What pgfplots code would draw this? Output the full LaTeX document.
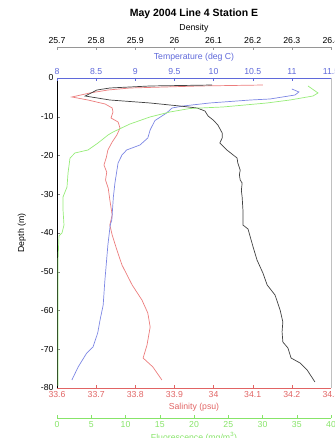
\documentclass[border=0pt]{standalone}
\usepackage{fontspec}
\setmainfont{Liberation Sans}
\usepackage{pgfplots}
\pgfplotsset{compat=1.18}
\definecolor{salc}{RGB}{236,125,125}
\definecolor{salt}{RGB}{225,100,100}
\definecolor{tmpc}{RGB}{125,135,228}
\definecolor{tmpt}{RGB}{95,105,218}
\definecolor{fluc}{RGB}{150,236,120}
\definecolor{flut}{RGB}{135,228,105}
\definecolor{denc}{RGB}{65,65,65}
\definecolor{dena}{RGB}{150,150,150}
\pgfplotsset{
  base/.style={scale only axis, width=274pt, height=310pt, at={(0,0)}, anchor=south west,
    /pgf/number format/assume math mode=true,
    tick label style={font=\fontsize{8.7}{10}\selectfont},
    label style={font=\fontsize{8.7}{10}\selectfont},
    major tick length=3pt, tick align=inside,
    axis line style={-}, every axis plot/.append style={line width=0.7pt}},
}
\begin{document}
\begin{tikzpicture}
\path[use as bounding box, clip] (-57pt,-50pt) rectangle (277pt,388pt);
% Salinity + depth
\begin{axis}[base, xmin=33.6, xmax=34.3, ymin=-80, ymax=0,
  axis x line*=bottom, axis y line*=left,
  xtick={33.6,33.7,33.8,33.9,34,34.1,34.2,34.3},
  ytick={-80,-70,-60,-50,-40,-30,-20,-10,0},
  x axis line style={salt}, x tick style={salt},
  xticklabel style={text=salt},
  xlabel={Salinity (psu)}, xlabel style={text=salt, yshift=1pt},
  ylabel={Depth (m)}, ylabel style={yshift=8pt}]
\addplot[salc, no marks] coordinates {
(34.126,-1.81) (33.965,-2.06) (33.787,-2.58) (33.730,-3.10) (33.684,-3.87) (33.638,-4.90)
(33.679,-5.68) (33.723,-6.71) (33.741,-7.74) (33.743,-8.77) (33.738,-10.32) (33.756,-11.35)
(33.761,-12.90) (33.753,-14.71) (33.741,-16.52) (33.730,-18.58) (33.726,-20.5) (33.720,-22.45)
(33.727,-24.3) (33.724,-26.32) (33.731,-28.5) (33.735,-31.48) (33.741,-35.35) (33.735,-37.94)
(33.741,-40.52) (33.753,-44.39) (33.766,-48.26) (33.792,-53.42) (33.817,-57.29) (33.832,-60.65)
(33.838,-64.26) (33.830,-68.90) (33.820,-72.26) (33.845,-74.58) (33.868,-77.94)};
\end{axis}
% Temperature
\begin{axis}[base, xmin=8, xmax=11.5, ymin=-80, ymax=0,
  axis x line*=top, axis y line*=right, ytick=\empty,
  xtick={8,8.5,9,9.5,10,10.5,11,11.5},
  x axis line style={tmpt}, x tick style={tmpt},
  y axis line style={dena!60},
  xticklabel style={text=tmpt},
  xlabel={Temperature (deg C)}, xlabel style={text=tmpt}]
\addplot[tmpc, no marks] coordinates {
(11.00,-2.84) (11.09,-3.61) (11.04,-4.39) (10.72,-5.42) (10.47,-5.68) (9.95,-6.45) (9.61,-7.23)
(9.47,-7.74) (9.40,-9.03) (9.25,-11.0) (9.19,-13.4) (9.16,-15.48) (9.06,-17.29) (8.89,-18.58)
(8.83,-19.87) (8.78,-21.94) (8.74,-27.10) (8.72,-30.71) (8.70,-36.65) (8.68,-37.94) (8.65,-43.10)
(8.61,-52.65) (8.59,-58.58) (8.55,-62.45) (8.52,-65.81) (8.46,-69.42) (8.38,-70.97) (8.27,-74.58)
(8.19,-77.94)};
\end{axis}
% Density
\begin{axis}[base, height=341pt, xmin=25.7, xmax=26.4, ymin=-80, ymax=8,
  axis x line*=top, axis y line=none,
  xtick={25.7,25.8,25.9,26,26.1,26.2,26.3,26.4},
  x axis line style={dena}, x tick style={dena},
  xlabel={Density}, xlabel style={yshift=-2pt}]
\addplot[denc, no marks] coordinates {
(26.096,-1.81) (25.938,-2.06) (25.835,-2.58) (25.802,-3.10) (25.772,-4.65) (25.835,-5.68)
(25.938,-6.45) (26.014,-7.23) (26.058,-7.74) (26.078,-8.52) (26.086,-9.81) (26.099,-10.84)
(26.111,-12.13) (26.122,-14.19) (26.122,-15.48) (26.116,-16.77) (26.134,-18.58) (26.160,-20.65)
(26.162,-21.94) (26.168,-23.74) (26.166,-25.0) (26.168,-26.32) (26.173,-27.10) (26.171,-29.0)
(26.173,-30.71) (26.175,-34.06) (26.175,-37.94) (26.188,-38.97) (26.201,-43.61) (26.211,-46.97)
(26.226,-50.32) (26.237,-53.42) (26.257,-56.00) (26.270,-59.87) (26.277,-62.97) (26.275,-65.5)
(26.277,-68.13) (26.290,-69.68) (26.298,-72.26) (26.321,-73.55) (26.339,-75.35) (26.359,-78.45)};
\end{axis}
% Fluorescence
\begin{axis}[base, at={(0,-30pt)}, height=340pt, xmin=0, xmax=40, ymin=-87.742, ymax=0,
  axis x line*=bottom, axis y line=none,
  xtick={0,5,10,15,20,25,30,35,40},
  x axis line style={flut}, x tick style={flut},
  xticklabel style={text=flut},
  xlabel={Fluorescence (mg/m\textsuperscript{3})}, xlabel style={text=flut, yshift=2.5pt}]
\addplot[fluc, no marks] coordinates {
(36.64,-2.06) (38.10,-3.87) (37.37,-4.65) (34.02,-5.68) (30.66,-6.45) (24.23,-7.48) (19.42,-7.87)
(16.50,-8.77) (13.58,-10.06) (10.66,-11.87) (8.18,-13.94) (7.45,-14.71) (5.99,-16.77) (4.53,-18.58)
(2.63,-19.35) (1.90,-20.65) (1.61,-24.52) (1.46,-28.13) (0.88,-30.71) (0.88,-34.06) (1.02,-37.94)
(0.73,-40.00) (0.29,-40.77) (0.15,-46.97) (0.15,-57.29) (0.15,-79.48)};
\end{axis}
\node[font=\bfseries\fontsize{10.5}{12}\selectfont] at (137pt,374pt) {May 2004 Line 4 Station E};
\end{tikzpicture}
\end{document}
